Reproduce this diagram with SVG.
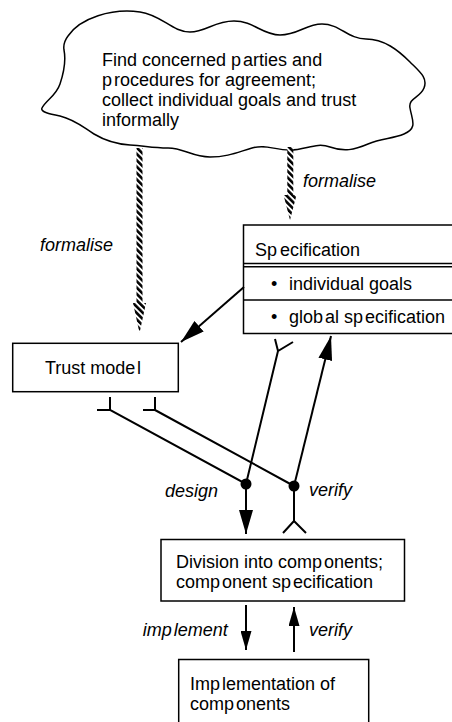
<svg xmlns="http://www.w3.org/2000/svg" width="452" height="722" viewBox="0 0 452 722">
<style>
text{font-family:"Liberation Sans",Arial,Helvetica,sans-serif;font-size:18px;fill:#000}
.it{font-style:italic}
.box{fill:#fff;stroke:#000;stroke-width:1.5}
.ln{fill:none;stroke:#000;stroke-width:2}
.hatch{fill:url(#stripes);stroke:none}
</style>
<defs>
<pattern id="stripes" width="4.5" height="4.5" patternUnits="userSpaceOnUse" patternTransform="rotate(-45)">
<rect width="4.5" height="4.5" fill="#fff"/>
<rect width="2.6" height="4.5" fill="#000"/>
</pattern>
<marker id="ahL" viewBox="0 0 24 14" refX="24" refY="7" markerWidth="24" markerHeight="14" markerUnits="userSpaceOnUse" orient="auto">
<path d="M0,0 L24,7 L0,14 z" fill="#000"/>
</marker>
<marker id="ahS" viewBox="0 0 19 11" refX="19" refY="5.5" markerWidth="19" markerHeight="11" markerUnits="userSpaceOnUse" orient="auto">
<path d="M0,0 L19,5.5 L0,11 z" fill="#000"/>
</marker>
</defs>

<g id="cloud">
<path class="box" d="M68,36 C80,18 112,8 140,12 C162,15 172,32 190,32 C206,32 214,21 234,21 C254,21 262,35 280,35 C298,35 306,24 322,24 C340,24 348,39 366,39 C384,39 398,50 410,62 C420,72 428,78 424,88 C420,98 408,98 410,108 C412,120 418,128 404,134 C392,139 382,138 368,144 C354,150 344,152 330,147 C316,142 306,150 290,150 C274,150 266,144 252,148 C238,152 228,157 210,157 C192,157 184,148 168,148 C152,148 146,146 130,145 C114,144 104,140 94,134 C84,128 76,120 60,116 C50,114 40,112 42,108 C46,100 56,96 60,84 C64,72 66,60 64,50 C63,44 65,40 68,36 Z"/>
<text x="102" y="66">Find concerned p<tspan dx="2">arties and</tspan></text>
<text x="102" y="86">p<tspan dx="2">rocedures for agreement;</tspan></text>
<text x="102" y="106">collect individual goals and trust</text>
<text x="102" y="125.5">informally</text>
</g>

<g id="formalise-left">
<path class="hatch" d="M136.5,148 H142.5 V303 H146 L139.5,333 L133,303 H136.5 Z"/>
<text class="it" x="40" y="251">formalise</text>
</g>

<g id="formalise-right">
<path class="hatch" d="M287.3,147 H293.3 V195 H296.5 L290,220 L283.5,195 H287.3 Z"/>
<text class="it" x="303" y="187">formalise</text>
</g>

<g id="specification">
<rect class="box" x="243.5" y="225" width="230" height="108.5"/>
<line class="ln" x1="243.5" y1="263.5" x2="460" y2="263.5" style="stroke-width:1.5"/>
<line class="ln" x1="243.5" y1="266.8" x2="460" y2="266.8" style="stroke-width:1.5"/>
<line class="ln" x1="243.5" y1="300" x2="460" y2="300" style="stroke-width:1.5"/>
<text x="255" y="256">Sp<tspan dx="3">ecification</tspan></text>
<text x="271" y="289.5">•</text>
<text x="289" y="289.5">individual goals</text>
<text x="271" y="322.5">•</text>
<text x="289" y="322.5">glob<tspan dx="2">al sp</tspan><tspan dx="2">ecification</tspan></text>
</g>

<g id="trust-model">
<rect class="box" x="12.7" y="343.3" width="165.6" height="48.4"/>
<text x="45" y="374">Trust mode<tspan dx="1.5">l</tspan></text>
</g>

<g id="division">
<rect class="box" x="161" y="539.5" width="243.5" height="61.5"/>
<text x="176" y="568">Division into comp<tspan dx="2">onents;</tspan></text>
<text x="176" y="587.5">comp<tspan dx="2">onent sp</tspan><tspan dx="2">ecification</tspan></text>
</g>

<g id="implementation">
<rect class="box" x="178.7" y="659.5" width="190" height="80"/>
<text x="190" y="690">Imp<tspan dx="2">lementation of</tspan></text>
<text x="190" y="710">comp<tspan dx="2">onents</tspan></text>
</g>

<g id="connectors">
<line class="ln" x1="244" y1="287" x2="181" y2="342" marker-end="url(#ahL)"/>
<path class="ln" d="M275,339 L278,351 L293,342 M278,351 L246,484 L110,410 L110,397 M110,410 L97,410"/>
<path class="ln" d="M155,397 L155,410 L143,410 M155,410 L294,486"/>
<line class="ln" x1="294" y1="486" x2="331" y2="336" marker-end="url(#ahL)"/>
<line class="ln" x1="246" y1="484" x2="246" y2="534" marker-end="url(#ahL)"/>
<path class="ln" d="M294,486 L294,521 M283,533 L294,521 L306,533"/>
<circle cx="246" cy="484" r="5.5" fill="#000"/>
<circle cx="294" cy="486" r="5.5" fill="#000"/>
<line class="ln" x1="246" y1="605" x2="246" y2="650" marker-end="url(#ahS)"/>
<line class="ln" x1="294" y1="652" x2="294" y2="607" marker-end="url(#ahS)"/>
<text class="it" x="165" y="497">design</text>
<text class="it" x="309" y="496">verify</text>
<text class="it" x="142.7" y="636">imp<tspan dx="2">lement</tspan></text>
<text class="it" x="309" y="636">verify</text>
</g>
</svg>
